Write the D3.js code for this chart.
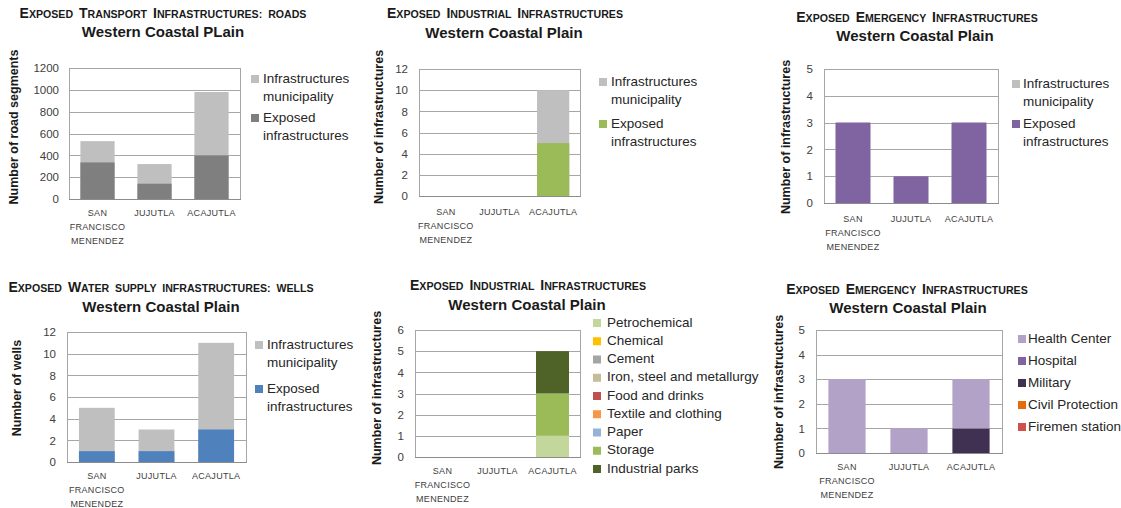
<!DOCTYPE html>
<html>
<head>
<meta charset="utf-8">
<script src="https://cdn.jsdelivr.net/npm/d3@7"></script>
<style>
  html, body { margin: 0; padding: 0; background: #fff; }
  svg { display: block; font-family: "Liberation Sans", Arial, sans-serif; }
</style>
</head>
<body>
<svg id="chart" width="1121" height="508"></svg>
<script>
// Municipalities of the Western Coastal Plain
const municipalities = ["SAN FRANCISCO MENENDEZ", "JUJUTLA", "ACAJUTLA"];

// Transport: road segments
const roadsMunicipality = [530, 320, 980];
const roadsExposed = [335, 140, 400];
const roadsTicks = [0, 200, 400, 600, 800, 1000, 1200];

// Industrial infrastructures (totals)
const industrialMunicipality = [0, 0, 10];
const industrialExposed = [0, 0, 5];
const industrialTicks = [0, 2, 4, 6, 8, 10, 12];

// Emergency infrastructures (totals)
const emergencyMunicipality = [3, 1, 3];
const emergencyExposed = [3, 1, 3];
const emergencyTicks = [0, 1, 2, 3, 4, 5];

// Water supply: wells
const wellsMunicipality = [5, 3, 11];
const wellsExposed = [1, 1, 3];
const wellsTicks = [0, 2, 4, 6, 8, 10, 12];

// Exposed industrial infrastructures by type
const industryTypes = ["Petrochemical", "Chemical", "Cement", "Iron, steel and metallurgy",
  "Food and drinks", "Textile and clothing", "Paper", "Storage", "Industrial parks"];
const petrochemical = [0, 0, 1];
const chemical = [0, 0, 0];
const cement = [0, 0, 0];
const ironSteel = [0, 0, 0];
const foodDrinks = [0, 0, 0];
const textileClothing = [0, 0, 0];
const paper = [0, 0, 0];
const storage = [0, 0, 2];
const industrialParks = [0, 0, 2];
const industryTypeTicks = [0, 1, 2, 3, 4, 5, 6];

// Exposed emergency infrastructures by type
const emergencyTypes = ["Health Center", "Hospital", "Military", "Civil Protection", "Firemen station"];
const healthCenter = [3, 1, 2];
const hospital = [0, 0, 0];
const military = [0, 0, 1];
const civilProtection = [0, 0, 0];
const firemenStation = [0, 0, 0];
const emergencyTypeTicks = [0, 1, 2, 3, 4, 5];

const svg = d3.select("#chart");

const GRID = "#a6a6a6";
const TEXT = "#404040";

// Small-caps heading: capitals at full size, other letters as smaller capitals
function smallCaps(sel, str, big, small) {
  const runs = [];
  for (const ch of str) {
    const isCap = /[A-Z]/.test(ch);
    const last = runs[runs.length - 1];
    if (last && last.cap === isCap) last.s += ch; else runs.push({ cap: isCap, s: ch });
  }
  runs.forEach(r => {
    sel.append("tspan").style("font-size", (r.cap ? big : small) + "px")
      .text(r.s.toUpperCase());
  });
}

function drawFrame(cfg) {
  const g = svg.append("g");
  const x = d3.scaleBand().domain(municipalities).range([cfg.plot.x0, cfg.plot.x1])
    .paddingInner(0.4).paddingOuter(0.2);
  const y = d3.scaleLinear().domain([0, d3.max(cfg.ticks)]).range([cfg.plot.y1, cfg.plot.y0]);

  // plot area border
  g.append("rect")
    .attr("x", cfg.plot.x0 + 0.5).attr("y", cfg.plot.y0 + 0.5)
    .attr("width", cfg.plot.x1 - cfg.plot.x0).attr("height", cfg.plot.y1 - cfg.plot.y0)
    .attr("fill", "#fff").attr("stroke", GRID).attr("stroke-width", 1);

  // horizontal gridlines
  g.selectAll("line.grid").data(cfg.ticks.slice(1, -1)).join("line")
    .attr("x1", cfg.plot.x0).attr("x2", cfg.plot.x1)
    .attr("y1", d => Math.round(y(d)) + 0.5).attr("y2", d => Math.round(y(d)) + 0.5)
    .attr("stroke", GRID).attr("stroke-width", 1);

  // value axis
  const ax = g.append("g").attr("transform", `translate(${cfg.plot.x0},0)`)
    .call(d3.axisLeft(y).tickValues(cfg.ticks).tickSize(0).tickPadding(cfg.tickPad || 11)
      .tickFormat(d3.format("d")));
  ax.select(".domain").remove();
  ax.selectAll("text").attr("fill", TEXT).style("font-size", "11.5px")
    .style("font-family", "'Liberation Sans', Arial, sans-serif");

  // category axis (bottom line)
  g.append("line").attr("x1", cfg.plot.x0).attr("x2", cfg.plot.x1 + 1)
    .attr("y1", cfg.plot.y1 + 0.5).attr("y2", cfg.plot.y1 + 0.5)
    .attr("stroke", "#8c8c8c");

  const cat = g.append("g");
  municipalities.forEach(m => {
    const t = cat.append("text").attr("text-anchor", "middle")
      .attr("fill", TEXT).style("font-size", "9px").style("letter-spacing", "0.3px");
    m.split(" ").forEach((w, i) => {
      t.append("tspan").attr("x", x(m) + x.bandwidth() / 2)
        .attr("y", cfg.catY + i * 14).text(w);
    });
  });

  // titles
  const t1 = g.append("text").attr("x", cfg.title1.x).attr("y", cfg.title1.y + 5)
    .attr("text-anchor", "middle").style("word-spacing", "3px")
    .style("font-weight", "bold").attr("fill", "#1a1a1a");
  smallCaps(t1, cfg.title, 14, 10.6);
  g.append("text").attr("x", cfg.title2.x).attr("y", cfg.title2.y)
    .attr("text-anchor", "middle").attr("dominant-baseline", "middle")
    .style("font-weight", "bold").style("font-size", "15px").attr("fill", "#1a1a1a")
    .text(cfg.subtitle);

  // value axis title
  g.append("text")
    .attr("transform", `translate(${cfg.ylab.x},${cfg.ylab.y}) rotate(-90)`)
    .attr("text-anchor", "middle").attr("dominant-baseline", "middle")
    .style("font-weight", "bold").style("font-size", "12.5px").attr("fill", "#1a1a1a")
    .text(cfg.yTitle);

  return { g, x, y };
}

function drawLegend(g, cfg, items) {
  items.forEach((it, i) => {
    const y0 = cfg.legend.y + i * cfg.legend.step;
    g.append("rect").attr("x", cfg.legend.sx).attr("y", y0 - 4)
      .attr("width", 8).attr("height", 8).attr("fill", it.color);
    const t = g.append("text").attr("fill", "#262626").style("font-size", "13.5px");
    it.label.forEach((line, j) => {
      t.append("tspan").attr("x", cfg.legend.tx).attr("y", y0 + j * (cfg.legend.lineH || 18))
        .attr("dominant-baseline", "middle").text(line);
    });
  });
}

// Two overlaid series: municipality total behind exposed count
function overlapChart(cfg) {
  const { g, x, y } = drawFrame(cfg);
  const rows = municipalities.map((m, i) => ({ m, total: cfg.total[i], exposed: cfg.exposed[i] }));
  g.selectAll("rect.total").data(rows).join("rect")
    .attr("x", d => x(d.m)).attr("width", x.bandwidth())
    .attr("y", d => y(d.total)).attr("height", d => y(0) - y(d.total))
    .attr("fill", "#bfbfbf");
  g.selectAll("rect.exp").data(rows).join("rect")
    .attr("x", d => x(d.m)).attr("width", x.bandwidth())
    .attr("y", d => y(d.exposed)).attr("height", d => y(0) - y(d.exposed))
    .attr("fill", cfg.color);
  drawLegend(g, cfg, [
    { label: ["Infrastructures", "municipality"], color: "#bfbfbf" },
    { label: ["Exposed", "infrastructures"], color: cfg.color }
  ]);
}

// Stacked columns by infrastructure type
function stackedChart(cfg) {
  const { g, x, y } = drawFrame(cfg);
  const rows = municipalities.map((m, i) => {
    const r = { m };
    cfg.keys.forEach((k, j) => { r[k] = cfg.values[j][i]; });
    return r;
  });
  const series = d3.stack().keys(cfg.stackOrder)(rows);
  g.selectAll("g.layer").data(series).join("g")
    .attr("fill", s => cfg.colors[cfg.keys.indexOf(s.key)])
    .selectAll("rect").data(s => s).join("rect")
    .attr("x", d => x(d.data.m)).attr("width", x.bandwidth())
    .attr("y", d => y(d[1])).attr("height", d => y(d[0]) - y(d[1]));
  drawLegend(g, cfg, cfg.keys.map((k, j) => ({ label: [k], color: cfg.colors[j] })));
}

overlapChart({
  plot: { x0: 69, x1: 240, y0: 68, y1: 199 }, ticks: roadsTicks, tickPad: 10,
  title: "Exposed Transport Infrastructures: roads", subtitle: "Western Coastal PLain",
  title1: { x: 163, y: 13 }, title2: { x: 163, y: 33 },
  yTitle: "Number of road segments", ylab: { x: 15, y: 127 }, catY: 216,
  total: roadsMunicipality, exposed: roadsExposed, color: "#7f7f7f",
  legend: { sx: 251, tx: 263, y: 79, step: 39 }
});

overlapChart({
  plot: { x0: 419, x1: 580, y0: 69, y1: 196 }, ticks: industrialTicks,
  title: "Exposed Industrial Infrastructures", subtitle: "Western Coastal Plain",
  title1: { x: 505, y: 13 }, title2: { x: 504, y: 34 },
  yTitle: "Number of infrastructures", ylab: { x: 380, y: 127 }, catY: 215,
  total: industrialMunicipality, exposed: industrialExposed, color: "#9bbb59",
  legend: { sx: 599, tx: 611, y: 82, step: 42 }
});

overlapChart({
  plot: { x0: 824, x1: 998, y0: 69, y1: 203 }, ticks: emergencyTicks,
  title: "Exposed Emergency Infrastructures", subtitle: "Western Coastal Plain",
  title1: { x: 917, y: 17 }, title2: { x: 915, y: 37 },
  yTitle: "Number of infrastructures", ylab: { x: 787, y: 137 }, catY: 222,
  total: emergencyMunicipality, exposed: emergencyExposed, color: "#8064a2",
  legend: { sx: 1012, tx: 1023, y: 84, step: 40 }
});

overlapChart({
  plot: { x0: 67, x1: 246, y0: 332, y1: 462 }, ticks: wellsTicks,
  title: "Exposed Water supply infrastructures: wells", subtitle: "Western Coastal Plain",
  title1: { x: 161, y: 287 }, title2: { x: 161, y: 308 },
  yTitle: "Number of wells", ylab: { x: 18, y: 388 }, catY: 479,
  total: wellsMunicipality, exposed: wellsExposed, color: "#4f81bd",
  legend: { sx: 255, tx: 267, y: 345, step: 44 }
});

stackedChart({
  plot: { x0: 415, x1: 580, y0: 330, y1: 457 }, ticks: industryTypeTicks,
  title: "Exposed Industrial Infrastructures", subtitle: "Western Coastal Plain",
  title1: { x: 528, y: 285 }, title2: { x: 527, y: 306 },
  yTitle: "Number of infrastructures", ylab: { x: 378, y: 388 }, catY: 474,
  keys: industryTypes,
  stackOrder: industryTypes,
  values: [petrochemical, chemical, cement, ironSteel, foodDrinks, textileClothing, paper, storage, industrialParks],
  colors: ["#c3d69b", "#ffc000", "#a5a5a5", "#c4bd97", "#c0504d", "#f79646", "#95b3d7", "#9bbb59", "#4f6228"],
  legend: { sx: 593, tx: 607, y: 323, step: 18.25 }
});

stackedChart({
  plot: { x0: 816, x1: 1002, y0: 330, y1: 453 }, ticks: emergencyTypeTicks,
  title: "Exposed Emergency Infrastructures", subtitle: "Western Coastal Plain",
  title1: { x: 907, y: 289 }, title2: { x: 908, y: 309 },
  yTitle: "Number of infrastructures", ylab: { x: 780, y: 392 }, catY: 470,
  keys: emergencyTypes,
  stackOrder: emergencyTypes.slice().reverse(),
  values: [healthCenter, hospital, military, civilProtection, firemenStation],
  colors: ["#b3a2c7", "#8064a2", "#403152", "#e46c0a", "#d0504d"],
  legend: { sx: 1018, tx: 1028, y: 339, step: 22 }
});
</script>
</body>
</html>
